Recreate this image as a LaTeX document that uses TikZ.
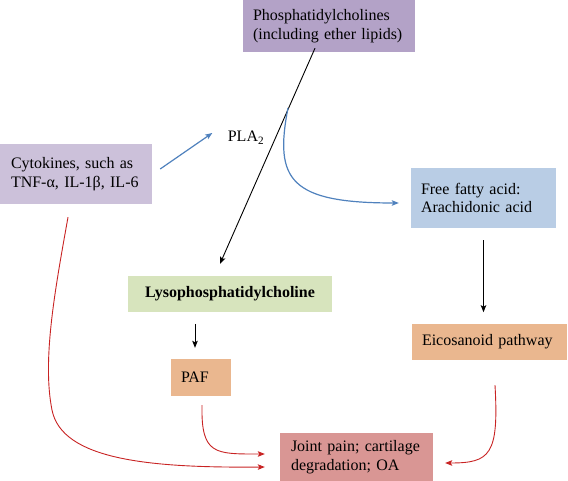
\documentclass[tikz,border=0pt]{standalone}
\usepackage{fontspec}
\setmainfont{Liberation Serif}
\usepackage{tikz}
\usetikzlibrary{arrows.meta}

\definecolor{pcpurple}{RGB}{179,162,199}
\definecolor{cytopurple}{RGB}{204,193,218}
\definecolor{ffablue}{RGB}{185,205,229}
\definecolor{lysogreen}{RGB}{215,228,189}
\definecolor{pafora}{RGB}{234,183,143}
\definecolor{jointred}{RGB}{217,150,148}
\definecolor{arrblue}{RGB}{79,129,189}
\definecolor{arrred}{RGB}{200,35,35}

\begin{document}
\begin{tikzpicture}[x=1pt,y=-1pt,>={Stealth[length=7pt,width=5.5pt,inset=1.5pt]},
                    font=\fontsize{16}{18.5}\selectfont]
  \tikzstyle{box}=[rectangle,draw=none,inner xsep=10pt,inner ysep=0pt,align=left]
  \tikzstyle{blk}=[->,black,line width=0.9pt]
  \tikzstyle{blu}=[->,arrblue,line width=1.2pt]
  \tikzstyle{rd}=[->,arrred,line width=0.9pt]

  \useasboundingbox (0,0) rectangle (568,481);

  \node[box,fill=pcpurple,minimum width=172pt,minimum height=52pt,text width=152pt]
       (PC)   at (329,26)    {Phosphatidylcholines\\(including ether lipids)};
  \node[box,fill=cytopurple,minimum width=152pt,minimum height=60pt,text width=130pt]
       (Cyto) at (76,174)    {Cytokines, such as\\TNF-α, IL-1β, IL-6};
  \node (PLA) at (246,138)   {PLA\textsubscript{2}};
  \node[box,fill=ffablue,minimum width=145pt,minimum height=60pt,text width=125pt]
       (FFA)  at (483.5,198) {Free fatty acid:\\Arachidonic acid};
  \node[box,fill=lysogreen,minimum width=204pt,minimum height=36pt,align=center]
       (Lyso) at (230,294)   {\bfseries Lysophosphatidylcholine};
  \node[box,fill=pafora,minimum width=60pt,minimum height=37pt,text width=40pt]
       (PAF)  at (201,377.5) {PAF};
  \node[box,fill=pafora,minimum width=155pt,minimum height=36pt,text width=135pt]
       (Eico) at (489.5,342) {Eicosanoid pathway};
  \node[box,fill=jointred,minimum width=153pt,minimum height=48pt,text width=131pt]
       (Joint) at (356.5,457) {Joint pain; cartilage\\degradation; OA};

  % PLA2 splits the phospholipid
  \draw[blk] ([xshift=-14pt,yshift=4pt]PC.south) -- ([xshift=-10pt,yshift=12pt]Lyso.north);
  \coordinate (branch) at (288,108);
  \draw[blu] (Cyto.east) ++(8pt,5pt) -- ([xshift=-12pt,yshift=5pt]PLA.west);
  \draw[blu] (branch) .. controls (274,180) and (290,203) .. ([xshift=-12pt,yshift=-5pt]FFA.west);

  \draw[blk] ([yshift=-12pt]FFA.south) -- ++(0,72);
  \draw[blk] ([xshift=-6pt,yshift=35pt]PAF.north) -- ([xshift=-6pt,yshift=11pt]PAF.north);

  % routes to joint damage
  \draw[rd] ([xshift=-8pt,yshift=-13pt]Cyto.south) .. controls (55,290) and (42,360) .. (52,410)
            .. controls (62,460) and (150,468) .. ([xshift=-15pt,yshift=-10pt]Joint.west);
  \draw[rd] ([xshift=1pt,yshift=-9pt]PAF.south) .. controls (201,455) and (215,454)
            .. ([xshift=-15pt,yshift=3pt]Joint.west);
  \draw[rd] ([xshift=5.5pt,yshift=-25pt]Eico.south) .. controls (499,455) and (490,463)
            .. ([xshift=12pt,yshift=-6pt]Joint.east);
\end{tikzpicture}
\end{document}
